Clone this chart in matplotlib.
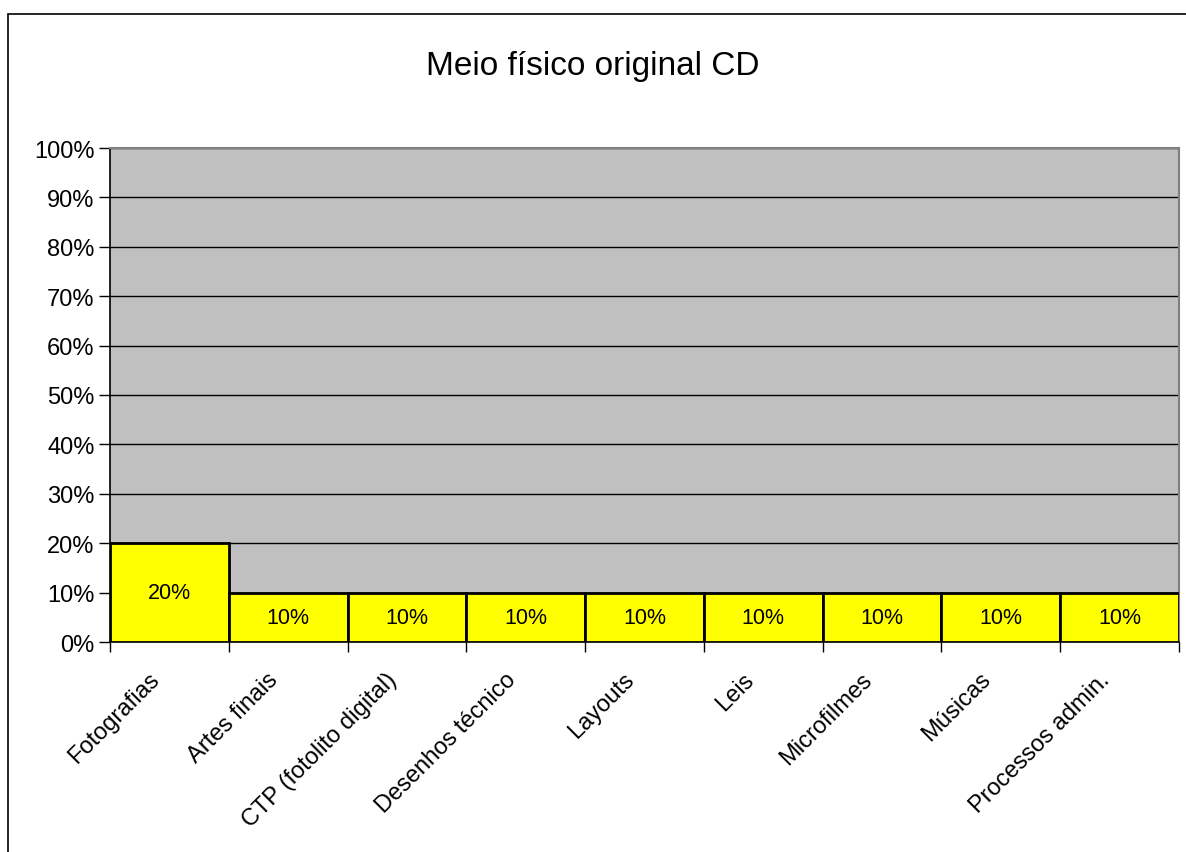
import matplotlib.pyplot as plt
import matplotlib.patches as mpatches
import numpy as np

plt.rcParams['font.family'] = ['Liberation Sans', 'DejaVu Sans']

categories = ['Fotografias', 'Artes finais', 'CTP (fotolito digital)', 'Desenhos técnico',
              'Layouts', 'Leis', 'Microfilmes', 'Músicas', 'Processos admin.']
values = [20, 10, 10, 10, 10, 10, 10, 10, 10]
title = 'Meio físico original CD'

fig = plt.figure(figsize=(11.86, 8.53), dpi=100)
# chart frame (left and top visible)
fig.patches.append(mpatches.Rectangle((8 / 1186, -0.5), 2, 0.5 + 1 - 15 / 853,
                                      transform=fig.transFigure, fill=False,
                                      edgecolor='black', lw=1.2))

ax = fig.add_axes([110 / 1186, 1 - 643 / 853, (1179 - 110) / 1186, (643 - 149) / 853])
ax.set_facecolor('#C0C0C0')

x = np.arange(len(categories))
bars = ax.bar(x, values, width=1.0, color='#FFFF00', edgecolor='black', lw=2, zorder=3)
for b, v in zip(bars, values):
    ax.text(b.get_x() + b.get_width() / 2, v / 2, f'{v}%', ha='center', va='center',
            fontsize=15.5, zorder=4)

ax.set_xlim(-0.5, len(categories) - 0.5)
ax.set_ylim(0, 100)
ax.set_yticks(np.arange(0, 101, 10))
ax.set_yticklabels([f'{t}%' for t in range(0, 101, 10)], fontsize=17)
ax.yaxis.grid(True, color='black', lw=1, zorder=1)
ax.set_axisbelow(True)

# category names, rotated, ending just left of each bar centre
ax.set_xticks([])
for i, cat in zip(x, categories):
    ax.annotate(cat, xy=(i, 0), xycoords=('data', 'axes fraction'),
                xytext=(-21 * 0.72, -26 * 0.72), textcoords='offset points',
                rotation=45, rotation_mode='anchor', ha='right', va='top', fontsize=17)
ax.set_xticks(np.arange(-0.5, len(categories)), minor=True)
ax.tick_params(axis='x', which='minor', length=7, width=1, direction='out')
ax.tick_params(axis='y', length=8, width=1, direction='out', pad=3)

for s in ['top', 'right']:
    ax.spines[s].set_color('#808080')
    ax.spines[s].set_linewidth(1.5)
for s in ['left', 'bottom']:
    ax.spines[s].set_color('black')
    ax.spines[s].set_linewidth(1.2)

fig.text(0.5, 1 - 66 / 853, title, ha='center', va='center', fontsize=24)

fig.savefig('out.png', dpi=100)
